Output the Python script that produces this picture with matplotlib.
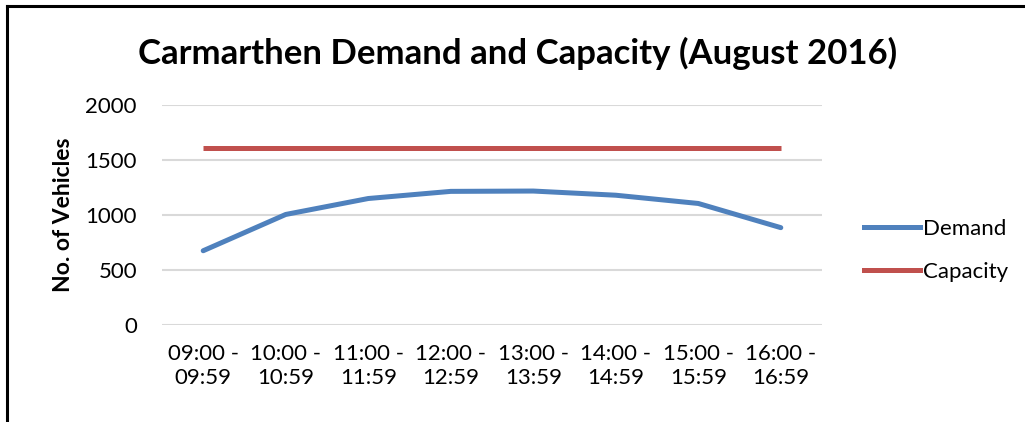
import matplotlib.pyplot as plt
from matplotlib.lines import Line2D

# chart data
periods = ["09:00 -\n09:59", "10:00 -\n10:59", "11:00 -\n11:59", "12:00 -\n12:59",
           "13:00 -\n13:59", "14:00 -\n14:59", "15:00 -\n15:59", "16:00 -\n16:59"]
demand = [675, 1005, 1150, 1215, 1218, 1180, 1105, 885]
capacity = [1610, 1610, 1610, 1610, 1610, 1610, 1610, 1610]

plt.rcParams['font.family'] = ['Lato', 'DejaVu Sans']

fig = plt.figure(figsize=(10.25, 4.22), dpi=100)
ax = fig.add_axes([0.158, 0.230, 0.644, 0.521])

x = list(range(len(periods)))
ax.plot(x, demand, color="#4F81BD", lw=3.6, solid_capstyle="round", label="Demand", zorder=3)
ax.plot(x, capacity, color="#C0504D", lw=3.6, solid_capstyle="butt", label="Capacity", zorder=3)

ax.set_xlim(-0.5, len(periods) - 0.5)
ax.set_ylim(0, 2000)
ax.set_yticks([0, 500, 1000, 1500, 2000])
ax.set_xticks(x)
ax.set_xticklabels(periods, fontsize=16, linespacing=1.25)
ax.tick_params(axis='both', length=0, labelsize=16)
ax.tick_params(axis='y', pad=18)
ax.tick_params(axis='x', pad=14)
ax.yaxis.grid(True, color="#d9d9d9", lw=1.5)
ax.set_axisbelow(True)
for s in ax.spines.values():
    s.set_visible(False)

ax.set_ylabel("No. of Vehicles", fontsize=16.5, fontweight="bold", labelpad=8)
fig.text(0.505, 0.873, "Carmarthen Demand and Capacity (August 2016)",
         ha="center", va="center", fontsize=25, fontweight="bold")

handles = [Line2D([], [], color="#4F81BD", lw=3.6), Line2D([], [], color="#C0504D", lw=3.6)]
fig.legend(handles, ["Demand", "Capacity"], loc="center left", bbox_to_anchor=(0.843, 0.407),
           frameon=False, fontsize=16, handlelength=2.5, handletextpad=0.15, labelspacing=1.05,
           borderaxespad=0, borderpad=0)

# outer frame (top and left edge only)
fig.add_artist(Line2D([0.0068, 0.0068], [0, 0.985], color="black", lw=2.2, transform=fig.transFigure))
fig.add_artist(Line2D([0.0068, 1.0], [0.985, 0.985], color="black", lw=2.2, transform=fig.transFigure))

fig.savefig("out.png", dpi=100)
